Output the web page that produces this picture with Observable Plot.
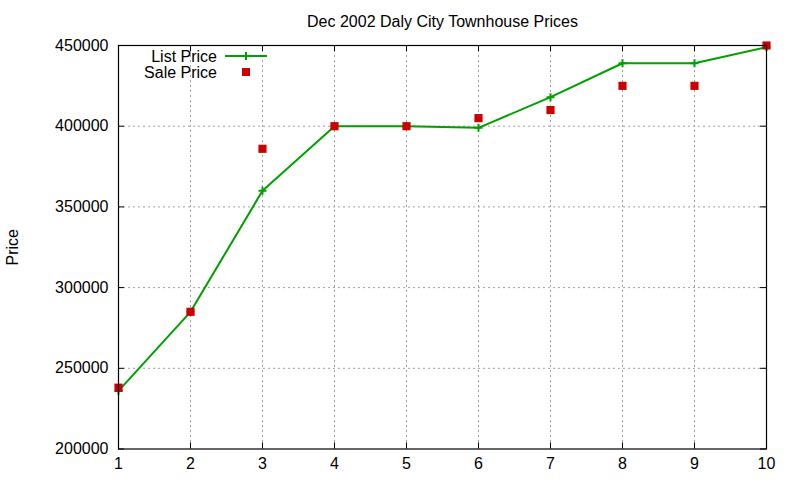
<!DOCTYPE html>
<html>
<head>
<meta charset="utf-8">
<script src="https://cdn.jsdelivr.net/npm/d3@7"></script>
<script src="https://cdn.jsdelivr.net/npm/@observablehq/plot@0.6"></script>
<style>
  html, body { margin: 0; padding: 0; background: #fff; }
  svg { display: block; }
</style>
</head>
<body>
<div id="chart"></div>
<script>
const title = "Dec 2002 Daly City Townhouse Prices";
const yLabel = "Price";
const xValues = [1, 2, 3, 4, 5, 6, 7, 8, 9, 10];
const listPrice = [236000, 285000, 360000, 400000, 400000, 399000, 418000, 439000, 439000, 449000];
const salePrice = [238000, 285000, 386000, 400000, 400000, 405000, 410000, 425000, 425000, 450000];
const xTicks = [1, 2, 3, 4, 5, 6, 7, 8, 9, 10];
const yTicks = [200000, 250000, 300000, 350000, 400000, 450000];
const seriesNames = ["List Price", "Sale Price"];
const seriesColors = ["#00a000", "#cc0000"];

const listData = xValues.map((x, i) => ({x, y: listPrice[i]}));
const saleData = xValues.map((x, i) => ({x, y: salePrice[i]}));

const W = 800, H = 480;
const mL = 118, mR = 34, mT = 45, mB = 31.5;
const fw = W - mL - mR, fh = H - mT - mB;
const tk = 6;
const font = "Liberation Sans, Arial, sans-serif";

const plusSymbol = {
  draw(ctx, size) {
    const r = Math.sqrt(size / Math.PI);
    ctx.moveTo(-r, 0); ctx.lineTo(r, 0);
    ctx.moveTo(0, -r); ctx.lineTo(0, r);
  }
};

const plot = Plot.plot({
  width: W, height: H,
  marginLeft: mL, marginRight: mR, marginTop: mT, marginBottom: mB,
  style: {fontFamily: font, fontSize: "16px", color: "#000", background: "#fff"},
  x: {domain: [1, 10], ticks: xTicks, tickFormat: d => String(d), tickSize: 0, tickPadding: 9, label: null},
  y: {domain: [200000, 450000], ticks: yTicks, tickFormat: d => String(d), tickSize: 0, tickPadding: 10, label: null},
  marks: [
    Plot.gridX(xTicks.slice(1, -1), {stroke: "#a0a0a0", strokeOpacity: 1, strokeDasharray: "2,3", strokeWidth: 1}),
    Plot.gridY(yTicks.slice(1, -1), {stroke: "#a0a0a0", strokeOpacity: 1, strokeDasharray: "2,3", strokeWidth: 1}),
    // inward ticks (mirrored)
    Plot.ruleX(xTicks, {insetTop: fh - tk, stroke: "#000"}),
    Plot.ruleX(xTicks, {insetBottom: fh - tk, stroke: "#000"}),
    Plot.ruleY(yTicks, {insetRight: fw - tk, stroke: "#000"}),
    Plot.ruleY(yTicks, {insetLeft: fw - tk, stroke: "#000"}),
    Plot.line(listData, {x: "x", y: "y", stroke: seriesColors[0], strokeWidth: 2}),
    Plot.dot(listData, {x: "x", y: "y", symbol: plusSymbol, r: 4, stroke: seriesColors[0], strokeWidth: 2, fill: "none"}),
    Plot.dot(saleData, {x: "x", y: "y", symbol: "square", r: 4.6, fill: seriesColors[1], stroke: "none"}),
    Plot.frame({stroke: "#000", strokeWidth: 1.2}),
    Plot.text([title], {frameAnchor: "top", dy: -24, lineAnchor: "middle", textAnchor: "middle", text: d => d, fontSize: 16, fill: "#000"}),
    Plot.text([yLabel], {frameAnchor: "left", dx: -106, lineAnchor: "middle", textAnchor: "middle", text: d => d, rotate: -90, fontSize: 16, fill: "#000"})
  ]
});

// Legend (gnuplot-style, top-left inside the frame)
const svg = d3.select(plot);
const leg = svg.append("g").attr("font-family", font).attr("font-size", 16);
seriesNames.forEach((name, i) => {
  const y = 56 + i * 16;
  leg.append("text").attr("x", 217).attr("y", y).attr("dy", "0.35em")
    .attr("text-anchor", "end").attr("fill", "#000").text(name);
  if (i === 0) {
    leg.append("line").attr("x1", 225).attr("x2", 267).attr("y1", y).attr("y2", y)
      .attr("stroke", seriesColors[i]).attr("stroke-width", 2);
    leg.append("path").attr("d", `M242,${y}h8M246,${y-4}v8`)
      .attr("stroke", seriesColors[i]).attr("stroke-width", 2);
  } else {
    leg.append("rect").attr("x", 242).attr("y", y - 4).attr("width", 8).attr("height", 8)
      .attr("fill", seriesColors[i]);
  }
});

document.getElementById("chart").appendChild(plot);
</script>
</body>
</html>
